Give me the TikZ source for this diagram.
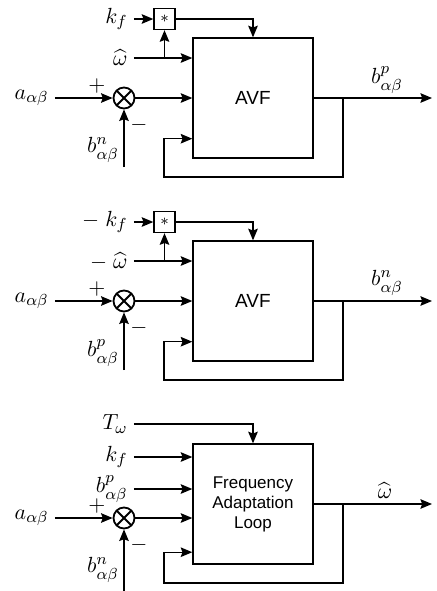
\documentclass[tikz,border=0pt]{standalone}
\usepackage{amsmath,amssymb}
\usepackage{fontspec}
\newfontfamily\blockfont{Liberation Sans}
\usetikzlibrary{arrows.meta,positioning}

\begin{document}
\begin{tikzpicture}[
x=0.5pt,
y=-0.5pt,
every node/.style={font=\fontsize{11}{13}\selectfont},
block/.style={rectangle,draw,line width=0.7pt,minimum width=60pt,minimum height=60pt,inner sep=0pt,align=center},
mult/.style={rectangle,draw,line width=0.7pt,minimum size=10.5pt,inner sep=0pt,font=\footnotesize},
summ/.style={circle,draw,line width=0.9pt,minimum size=10.5pt,inner sep=0pt,
  path picture={\draw[line width=0.9pt] (path picture bounding box.north west) -- (path picture bounding box.south east)
  (path picture bounding box.north east) -- (path picture bounding box.south west);}},
inp/.style={anchor=east,inner sep=3pt},
sgn/.style={inner sep=0pt},
arr/.style={-{Stealth[length=5.8pt,width=4.8pt,inset=0.9pt]},line width=0.65pt}
]
\useasboundingbox (0,0) rectangle (437,591);

% AVF, positive sequence
\node[block,font=\blockfont\fontsize{9.5}{11}\selectfont] (avf1) at (253,98) {AVF};
\node[mult] (mul1) at (164.5,19) {$\ast$};
\node[summ] (sum1) at (124,98) {};
\node[inp] (kf1) at (134,19) {$k_f$};
\node[inp] (w1) at (134,58) {$\widehat{\omega}$};
\node[inp] (a1) at (55,98) {$a_{\alpha\beta}$};
\node (bn1) at (103,150) {$b^n_{\alpha\beta}$};
\node[sgn] (plus1) at (97,86) {$+$};
\node[sgn] (minus1) at (139,125) {$-$};
\node (bp1) at (387,80) {$b^p_{\alpha\beta}$};
\coordinate (in1) at (124,167);
\coordinate (fb1) at (343,98);
\coordinate (out1) at (432,98);

\draw[arr] (kf1) -- (mul1);
\draw[arr] (w1) -- (avf1.west |- w1);
\draw[arr] (mul1.south |- w1) -- (mul1);
\draw[arr] (mul1) -| (avf1);
\draw[arr] (a1) -- (sum1);
\draw[arr] (in1) -- (sum1);
\draw[arr] (sum1) -- (avf1);
\draw[arr] (avf1) -- (out1);
\draw[arr] (fb1) |- ++(-179,79) |- ([yshift=10pt]avf1.south west);

% AVF, negative sequence
\node[block,font=\blockfont\fontsize{9.5}{11}\selectfont] (avf2) at (253,301) {AVF};
\node[mult] (mul2) at (164.5,222) {$\ast$};
\node[summ] (sum2) at (124,301) {};
\node[inp] (kf2) at (134,222) {$-\;k_f$};
\node[inp] (w2) at (134,261) {$-\;\widehat{\omega}$};
\node[inp] (a2) at (55,301) {$a_{\alpha\beta}$};
\node (bp2) at (103,353) {$b^p_{\alpha\beta}$};
\node[sgn] (plus2) at (97,289) {$+$};
\node[sgn] (minus2) at (139,328) {$-$};
\node (bn2) at (387,283) {$b^n_{\alpha\beta}$};
\coordinate (in2) at (124,370);
\coordinate (fb2) at (343,301);
\coordinate (out2) at (432,301);

\draw[arr] (kf2) -- (mul2);
\draw[arr] (w2) -- (avf2.west |- w2);
\draw[arr] (mul2.south |- w2) -- (mul2);
\draw[arr] (mul2) -| (avf2);
\draw[arr] (a2) -- (sum2);
\draw[arr] (in2) -- (sum2);
\draw[arr] (sum2) -- (avf2);
\draw[arr] (avf2) -- (out2);
\draw[arr] (fb2) |- ++(-179,79) |- ([yshift=10pt]avf2.south west);

% frequency adaptation loop
\node[block,font=\blockfont\fontsize{8.5}{10}\selectfont] (fal) at (253,504) {Frequency\\Adaptation\\Loop};
\node[summ] (sum3) at (124,518) {};
\node[inp] (tw3) at (134,424) {$T_\omega$};
\node[inp] (kf3) at (134,457) {$k_f$};
\node[inp] (bp3) at (134,489) {$b^p_{\alpha\beta}$};
\node[inp] (a3) at (55,518) {$a_{\alpha\beta}$};
\node (bn3) at (103,570) {$b^n_{\alpha\beta}$};
\node[sgn] (plus3) at (97,506) {$+$};
\node[sgn] (minus3) at (139,545) {$-$};
\node (w3) at (385,491) {$\widehat{\omega}$};
\coordinate (in3) at (124,591);
\coordinate (fb3) at (343,504);
\coordinate (out3) at (432,504);

\draw[arr] (tw3) -| (fal);
\draw[arr] (kf3) -- (fal.west |- kf3);
\draw[arr] (bp3) -- (fal.west |- bp3);
\draw[arr] (a3) -- (sum3);
\draw[arr] (in3) -- (sum3);
\draw[arr] (sum3) -- (fal.west |- sum3);
\draw[arr] (fal) -- (out3);
\draw[arr] (fb3) |- ++(-179,79) |- ([yshift=6.25pt]fal.south west);
\end{tikzpicture}
\end{document}
